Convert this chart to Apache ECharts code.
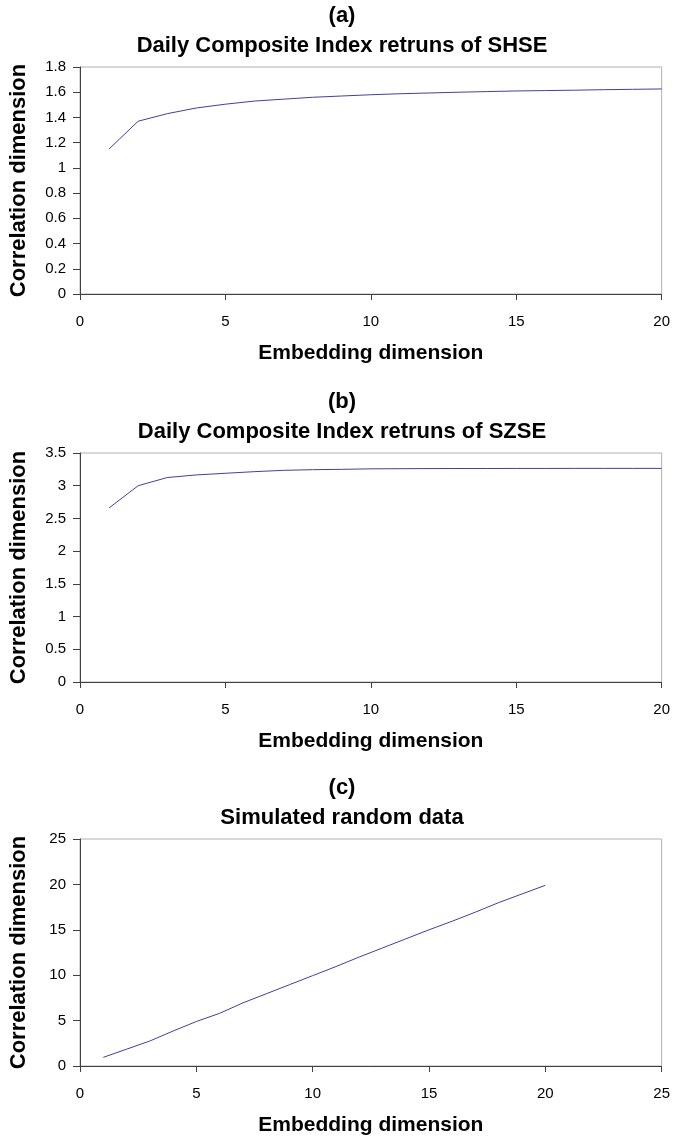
<!DOCTYPE html>
<html>
<head>
<meta charset="utf-8">
<script src="https://cdn.jsdelivr.net/npm/echarts@6/dist/echarts.min.js"></script>
<style>
  html, body { margin:0; padding:0; background:#fff; }
  #main { width:673px; height:1140px; }
</style>
</head>
<body>
<div id="main"></div>
<script>
// embedding dimension 1..20
var embedDims = [1,2,3,4,5,6,7,8,9,10,11,12,13,14,15,16,17,18,19,20];
// (a) SHSE
var shseCorr = [1.15,1.37,1.43,1.475,1.505,1.53,1.545,1.56,1.57,1.58,1.588,1.594,1.60,1.605,1.61,1.613,1.616,1.62,1.623,1.626];
// (b) SZSE
var szseCorr = [2.66,3.0,3.125,3.165,3.19,3.215,3.235,3.245,3.25,3.258,3.26,3.262,3.263,3.263,3.264,3.264,3.265,3.265,3.265,3.265];
// (c) random data
var randCorr = [0.95,1.85,2.75,3.85,4.9,5.8,6.95,7.95,8.95,9.95,10.95,12.0,13.0,14.0,15.0,15.95,16.95,18.0,18.95,19.9];

var panelLabels = ['(a)', '(b)', '(c)'];
var panelTitles = ['Daily Composite Index retruns of SHSE', 'Daily Composite Index retruns of SZSE', 'Simulated random data'];
var xAxisName = 'Embedding dimension';
var yAxisName = 'Correlation dimension';

var FONT = '"Liberation Sans", Arial, sans-serif';

function pairs(xs, ys){
  var out = [];
  for (var i = 0; i < xs.length; i++) out.push([xs[i], ys[i]]);
  return out;
}

var grids = [
  {left:76, top:67, width:587, height:227},
  {left:76, top:453, width:587, height:229},
  {left:72, top:839, width:591, height:227}
];
var xMax = [20, 20, 25];
var yAxes = [
  {max:1.8, interval:0.2},
  {max:3.5, interval:0.5},
  {max:25, interval:5}
];
var seriesData = [shseCorr, szseCorr, randCorr];

var option = {
  animation:false,
  backgroundColor:'#fff',
  title:[],
  grid:[],
  xAxis:[],
  yAxis:[],
  series:[]
};

for (var i = 0; i < 3; i++){
  var g = grids[i];
  option.title.push({
    text: panelLabels[i] + '\n' + panelTitles[i],
    left: 337,
    top: g.top - 71,
    textAlign:'center',
    textStyle:{fontFamily:FONT, fontSize:22, fontWeight:'bold', color:'#000', lineHeight:30}
  });
  option.grid.push({
    left:g.left, top:g.top, width:g.width, height:g.height,
    show:true, borderColor:'#b0b0b0', borderWidth:1, backgroundColor:'#fff'
  });
  option.xAxis.push({
    type:'value', gridIndex:i, min:0, max:xMax[i], interval:5,
    name:xAxisName, nameLocation:'middle', nameGap:49,
    nameTextStyle:{fontFamily:FONT, fontSize:21, fontWeight:'bold', color:'#000'},
    axisLine:{show:true, onZero:false, lineStyle:{color:'#404040', width:1}},
    axisTick:{show:true, length:6, lineStyle:{color:'#404040'}},
    axisLabel:{fontFamily:FONT, fontSize:15, color:'#000', margin:20},
    splitLine:{show:false}
  });
  option.yAxis.push({
    type:'value', gridIndex:i, min:0, max:yAxes[i].max, interval:yAxes[i].interval,
    name:yAxisName, nameLocation:'middle', nameGap:50,
    nameTextStyle:{fontFamily:FONT, fontSize:22, fontWeight:'bold', color:'#000'},
    axisLine:{show:true, onZero:false, lineStyle:{color:'#404040', width:1}},
    axisTick:{show:true, length:7, lineStyle:{color:'#404040'}},
    axisLabel:{fontFamily:FONT, fontSize:15, color:'#000', margin:14},
    splitLine:{show:false}
  });
  option.series.push({
    type:'line', xAxisIndex:i, yAxisIndex:i,
    data:pairs(embedDims, seriesData[i]),
    showSymbol:false, symbol:'none',
    lineStyle:{color:'#40409f', width:1}
  });
}

var chart = echarts.init(document.getElementById('main'));
chart.setOption(option);
</script>
</body>
</html>
